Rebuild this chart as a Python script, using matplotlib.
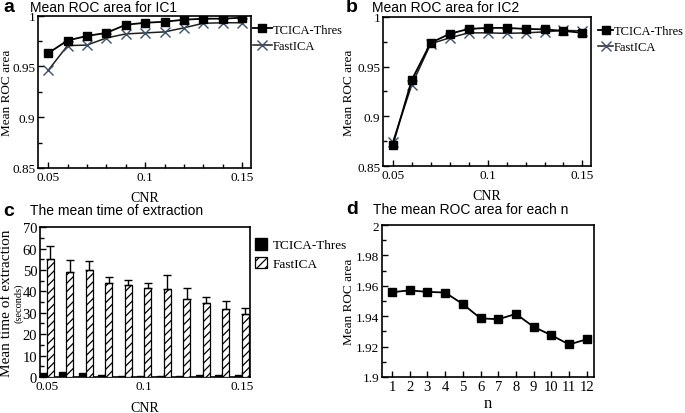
import matplotlib
matplotlib.use('Agg')
import matplotlib.pyplot as plt
import numpy as np
from matplotlib.ticker import MultipleLocator

# data
cnr = [0.05, 0.06, 0.07, 0.08, 0.09, 0.10, 0.11, 0.12, 0.13, 0.14, 0.15]
ic1_tcica = [0.963, 0.9755, 0.980, 0.983, 0.991, 0.993, 0.994, 0.996, 0.997, 0.997, 0.998]
ic1_fast = [0.946, 0.9705, 0.971, 0.978, 0.982, 0.983, 0.984, 0.988, 0.9925, 0.993, 0.993]
ic2_tcica = [0.871, 0.9366, 0.974, 0.983, 0.988, 0.989, 0.989, 0.988, 0.9875, 0.986, 0.984]
ic2_fast = [0.874, 0.9316, 0.973, 0.979, 0.984, 0.984, 0.9835, 0.984, 0.985, 0.9865, 0.986]
time_tcica = [2.0, 2.3, 1.7, 1.0, 0.6, 0.5, 0.5, 0.5, 0.8, 1.0, 0.8]
time_fast = [55.2, 49.2, 50.0, 43.8, 43.0, 41.4, 41.1, 36.4, 34.4, 31.7, 29.4]
time_fast_err = [5.8, 5.6, 4.2, 3.1, 2.3, 2.5, 6.7, 5.2, 3.1, 3.8, 2.6]
n_vals = [1, 2, 3, 4, 5, 6, 7, 8, 9, 10, 11, 12]
roc_n = [1.9558, 1.957, 1.956, 1.9556, 1.948, 1.9386, 1.938, 1.9415, 1.933, 1.9275, 1.9214, 1.9248]

serif = 'Liberation Serif'
sans = 'Liberation Sans'
plt.rcParams['font.family'] = serif
plt.rcParams['hatch.linewidth'] = 0.9

fig = plt.figure(figsize=(6.85, 4.14), dpi=100)
ax_a = fig.add_axes([0.0555, 0.5918, 0.311, 0.368])
ax_b = fig.add_axes([0.559, 0.5966, 0.304, 0.360])
ax_c = fig.add_axes([0.0584, 0.087, 0.3066, 0.362])
ax_d = fig.add_axes([0.5577, 0.087, 0.3095, 0.367])


def style(ax):
    for s in ax.spines.values():
        s.set_linewidth(1.2)
    ax.tick_params(which='both', direction='in', labelsize=9.5, width=1)
    ax.tick_params(which='major', length=4, pad=2)
    ax.tick_params(which='minor', length=3)


for ax, t, f, xl, yl, lx, hl in [(ax_a, ic1_tcica, ic1_fast, -0.151, -0.146, 0.986, 1.5),
                                 (ax_b, ic2_tcica, ic2_fast, -0.154, -0.165, 1.01, 1.2)]:
    ax.plot(cnr, t, color='black', lw=1.3, marker='s', ms=6, label='TCICA-Thres', zorder=3)
    ax.plot(cnr, f, color='#1f1f1f', lw=1.1, marker='x', ms=7, mec='#3c5068',
            mew=1.0, label='FastICA', zorder=2)
    ax.set_xlim(0.0448, 0.1546)
    ax.set_ylim(0.85, 1.0)
    ax.set_xticks([0.05, 0.1, 0.15])
    ax.set_xticklabels(['0.05', '0.1', '0.15'])
    ax.set_yticks([0.85, 0.9, 0.95, 1.0])
    ax.set_yticklabels(['0.85', '0.9', '0.95', '1'])
    ax.xaxis.set_minor_locator(MultipleLocator(0.01))
    ax.yaxis.set_minor_locator(MultipleLocator(0.025))
    ax.set_xlabel('CNR', fontsize=10)
    ax.xaxis.set_label_coords(0.5, xl)
    ax.set_ylabel('Mean ROC area', fontsize=9.5, va='center')
    ax.yaxis.set_label_coords(yl, 0.5)
    style(ax)
    ax.legend(loc='upper left', bbox_to_anchor=(lx, 0.98), frameon=False,
              fontsize=9, handlelength=hl, handletextpad=0.05, borderaxespad=0,
              labelspacing=0.35)

# panel c bars
x = np.array(cnr)
w = 0.0036
ax_c.bar(x - w / 2, time_tcica, width=w, color='black', edgecolor='black',
         label='TCICA-Thres', zorder=3)
ax_c.bar(x + w / 2, time_fast, width=w, color='white', edgecolor='black',
         hatch='////', lw=0.9, label='FastICA', zorder=3)
ax_c.errorbar(x + w / 2, time_fast, yerr=[np.zeros(len(x)), time_fast_err],
              fmt='none', ecolor='black', elinewidth=1, capsize=3, capthick=1, zorder=4)
ax_c.set_xlim(0.0466, 0.1543)
ax_c.set_ylim(0, 70)
ax_c.set_xticks([0.05, 0.1, 0.15])
ax_c.set_xticklabels(['0.05', '0.1', '0.15'])
ax_c.yaxis.set_major_locator(MultipleLocator(10))
ax_c.yaxis.set_minor_locator(MultipleLocator(5))
ax_c.xaxis.set_minor_locator(MultipleLocator(0.01))
ax_c.set_xlabel('CNR', fontsize=10)
ax_c.xaxis.set_label_coords(0.5, -0.16)
ax_c.set_ylabel('Mean time of extraction', fontsize=11, va='center')
ax_c.yaxis.set_label_coords(-0.16, 0.5)
ax_c.text(-0.1, 0.5, '(seconds)', transform=ax_c.transAxes, rotation=90,
          ha='center', va='center', fontsize=7.5)
style(ax_c)
ax_c.tick_params(axis='y', labelsize=10.5)
ax_c.legend(loc='upper left', bbox_to_anchor=(1.0, 0.963), frameon=False,
            fontsize=9.5, handlelength=0.9, handleheight=1.0, handletextpad=0.4,
            borderaxespad=0, labelspacing=0.4)

# panel d
ax_d.plot(n_vals, roc_n, color='black', lw=1.3, marker='s', ms=6)
ax_d.set_xlim(0.44, 12.41)
ax_d.set_ylim(1.9, 2.0)
ax_d.set_xticks(n_vals)
ax_d.yaxis.set_minor_locator(MultipleLocator(0.01))
ax_d.set_yticks([1.9, 1.92, 1.94, 1.96, 1.98, 2.0])
ax_d.set_yticklabels(['1.9', '1.92', '1.94', '1.96', '1.98', '2'])
ax_d.set_xlabel('n', fontsize=12)
ax_d.xaxis.set_label_coords(0.5, -0.118)
ax_d.set_ylabel('Mean ROC area', fontsize=9.5, va='center')
ax_d.yaxis.set_label_coords(-0.156, 0.5)
style(ax_d)
ax_d.tick_params(axis='x', labelsize=10.5)

# titles and panel letters
for lx, tx, y, letter, title in [
        (3, 30, 8, 'a', 'Mean ROC area for IC1'),
        (346, 372, 8, 'b', 'Mean ROC area for IC2'),
        (3, 30, 211, 'c', 'The mean time of extraction'),
        (346, 373, 210, 'd', 'The mean ROC area for each n')]:
    fig.text(lx / 685, 1 - y / 414, letter, fontsize=14, fontweight='bold',
             family=sans, va='center', ha='left')
    fig.text(tx / 685, 1 - y / 414, title, fontsize=10, family=sans,
             va='center', ha='left')

fig.savefig('out.png', dpi=100)
